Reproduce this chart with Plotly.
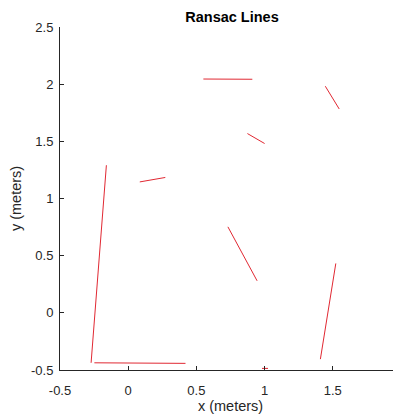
import plotly.graph_objects as go

# RANSAC line segments (meters): start and end points
seg_x0 = [-0.160, -0.248, 0.981, 0.551, 1.445, 0.874, 0.085, 0.731, 1.522]
seg_y0 = [1.291, -0.437, -0.486, 2.045, 1.982, 1.568, 1.145, 0.752, 0.432]
seg_x1 = [-0.272, 0.420, 1.025, 0.910, 1.547, 1.000, 0.272, 0.945, 1.409]
seg_y1 = [-0.437, -0.442, -0.486, 2.043, 1.783, 1.481, 1.184, 0.280, -0.405]

x_ticks = [-0.5, 0, 0.5, 1, 1.5, 2]
x_tick_labels = ["-0.5", "0", "0.5", "1", "1.5", "2"]
y_ticks = [-0.5, 0, 0.5, 1, 1.5, 2, 2.5]
y_tick_labels = ["-0.5", "0", "0.5", "1", "1.5", "2", "2.5"]

xs, ys = [], []
for a, b, c, d in zip(seg_x0, seg_y0, seg_x1, seg_y1):
    xs += [a, c, None]
    ys += [b, d, None]

fig = go.Figure()
fig.add_trace(go.Scatter(x=xs, y=ys, mode="lines",
                         line=dict(color="rgb(225,40,50)", width=1),
                         showlegend=False, hoverinfo="skip"))

axis_color = "#262626"
font_family = "Liberation Sans, Arial, sans-serif"

# page body has an 8px margin, so the figure is sized to fit the remaining window
W, H = 393, 407

fig.update_layout(
    width=W, height=H,
    margin=dict(l=52, r=0, t=19, b=45, autoexpand=False),
    paper_bgcolor="white", plot_bgcolor="white",
    font=dict(family=font_family, size=13, color=axis_color),
    title=dict(text="<b>Ransac Lines</b>", x=224 / W, xanchor="center",
               y=1 - 9 / H, yanchor="middle",
               font=dict(size=14.5, color="black", family=font_family)),
    xaxis=dict(range=[-0.5, 2], tickvals=x_ticks, ticktext=x_tick_labels,
               automargin=False,
               showgrid=False, zeroline=False, showline=True,
               linecolor=axis_color, linewidth=1, ticks="inside",
               ticklen=4, tickcolor=axis_color, ticklabelstandoff=8,
               title=dict(text="x (meters)", standoff=4,
                          font=dict(size=14.5, color=axis_color))),
    yaxis=dict(range=[-0.5, 2.5], tickvals=y_ticks, ticktext=y_tick_labels,
               automargin=False,
               showgrid=False, zeroline=False, showline=True,
               linecolor=axis_color, linewidth=1, ticks="inside",
               ticklen=4, tickcolor=axis_color, ticklabelstandoff=3,
               title=dict(text="y (meters)", standoff=8,
                          font=dict(size=14.5, color=axis_color))),
)

fig.write_html("out.html")
